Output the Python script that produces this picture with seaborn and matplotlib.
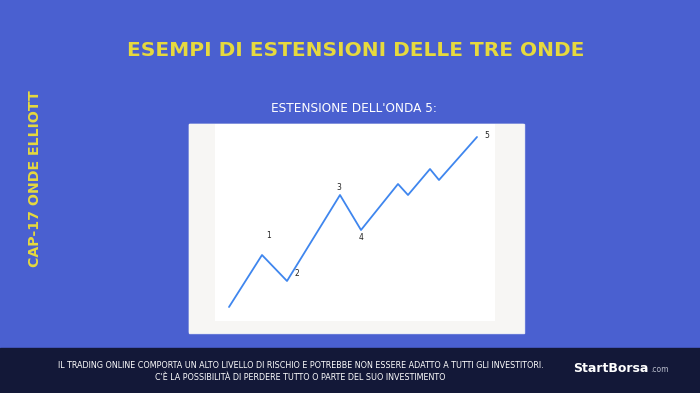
import matplotlib.pyplot as plt
import seaborn as sb
from matplotlib.patches import Rectangle

# wave path (pixel-like coords inside the picture panel)
wave_x = [229, 262, 287, 340, 361, 398, 408, 430, 439, 477]
wave_y = [307, 255, 281, 195, 230, 184, 195, 169, 180, 137]
wave_labels = ["1", "2", "3", "4", "5"]
label_x = [269, 297, 339, 361, 487]
label_y = [236, 274, 188, 238, 136]

title = "ESEMPI DI ESTENSIONI DELLE TRE ONDE"
side_title = "CAP-17 ONDE ELLIOTT"
subtitle = "ESTENSIONE DELL'ONDA 5:"
disclaimer = ["IL TRADING ONLINE COMPORTA UN ALTO LIVELLO DI RISCHIO E POTREBBE NON ESSERE ADATTO A TUTTI GLI INVESTITORI.",
              "C'È LA POSSIBILITÀ DI PERDERE TUTTO O PARTE DEL SUO INVESTIMENTO"]

BLUE = "#4A60D0"
NAVY = "#131838"
YELLOW = "#E6D93E"
W, H = 700, 393

sb.set_style("white")
plt.rcParams["font.family"] = ["DejaVu Sans"]

fig = plt.figure(figsize=(7, 3.93), dpi=100, facecolor=BLUE)


def fx(x):
    return x / W


def fy(y):
    return 1 - y / H


# footer band
fig.patches.append(Rectangle((0, 0), 1, fy(348), transform=fig.transFigure, color=NAVY, zorder=-2))
# grey picture frame with a thin light edge
fig.patches.append(Rectangle((fx(189), fy(333)), fx(524) - fx(189), fy(124) - fy(333),
                             transform=fig.transFigure, color="#E8EAF4", zorder=-3))
fig.patches.append(Rectangle((fx(189), fy(332)), fx(523) - fx(189), fy(124) - fy(332),
                             transform=fig.transFigure, color="#F7F6F4", zorder=-2))

ax = fig.add_axes([fx(215), fy(321), fx(495) - fx(215), fy(124) - fy(321)], zorder=2)
ax.set_facecolor("white")
sb.lineplot(x=wave_x, y=wave_y, sort=False, color="#3F86EE", linewidth=1.3, ax=ax)
for lab, lx, ly in zip(wave_labels, label_x, label_y):
    ax.text(lx, ly, lab, fontsize=5.5, color="#222222", ha="center", va="center")
ax.set_xlim(215, 495)
ax.set_ylim(321, 124)
ax.set_xticks([])
ax.set_yticks([])
for s in ax.spines.values():
    s.set_visible(False)

fig.text(fx(356), fy(50), title, color=YELLOW, fontsize=14.5, fontweight="bold",
         ha="center", va="center")
fig.text(fx(35), fy(179), side_title, color=YELLOW, fontsize=10.2, fontweight="bold",
         rotation=90, ha="center", va="center")
fig.text(fx(354), fy(109), subtitle, color="white", fontsize=8.7, ha="center", va="center")
fig.text(fx(301), fy(366), disclaimer[0], color="white", fontsize=5.8, ha="center", va="center")
fig.text(fx(300), fy(378), disclaimer[1], color="white", fontsize=5.8, ha="center", va="center")
fig.text(fx(573), fy(368), "StartBorsa", color="white", fontsize=9, fontweight="bold",
         ha="left", va="center")
fig.text(fx(650), fy(370), ".com", color="#B8BCCB", fontsize=5.5, ha="left", va="center")

fig.savefig("out.png", dpi=100, facecolor=BLUE)
